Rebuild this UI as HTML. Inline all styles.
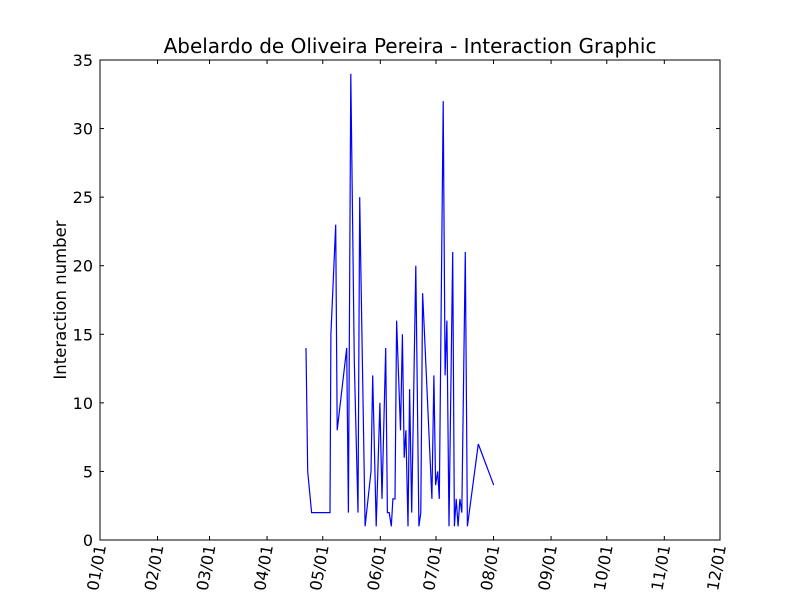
<!DOCTYPE html>
<html><head><meta charset="utf-8"><style>
body{margin:0;background:#fff;}
svg text{font-family:"DejaVu Sans","Liberation Sans",sans-serif;}
</style></head><body>
<svg id="chart" width="800" height="600"></svg>
<script>
const days=[111,111.9,114,123.9,124.4,127,127.8,132.9,133.8,135.1,137,139,139.9,140.5,142.8,146,146.9,148.8,150.8,151.9,153.9,154.8,155.8,156.9,157.8,158.9,159.8,161.9,162.9,163.9,164.8,165.9,166.8,167.9,170.1,171.8,172.8,173.8,174.5,178.8,179.9,180.8,181.9,182.8,184.9,185.9,186.9,188,190,190.9,191.9,192.9,193.9,194.9,196.8,197.9,203.8,212.1];
const counts=[14,5,2,2,15,23,8,14,2,34,13,2,25,20,1,5,12,1,10,3,14,2,2,1,3,3,16,8,15,6,8,1,11,2,20,1,2,18,16,3,12,4,5,3,32,12,16,1,21,1,3,1,3,2,21,1,7,4];
const yTicks=[0,5,10,15,20,25,30,35];
const xTickDays=[0,31,59,90,120,151,181,212,243,273,304,334];
const xTickLabels=["01/01","02/01","03/01","04/01","05/01","06/01","07/01","08/01","09/01","10/01","11/01","12/01"];
const L=100,R=720,T=60,B=540;
const xs=d=>L+(d-0)/(334)*(R-L);
const ys=v=>B-v/35*(B-T);
const svg=document.getElementById('chart');
const NS='http://www.w3.org/2000/svg';
function mk(tag,attrs,parent){const e=document.createElementNS(NS,tag);for(const k in attrs)e.setAttribute(k,attrs[k]);(parent||svg).appendChild(e);return e;}
const frame=mk('rect',{x:L,y:T,width:R-L,height:B-T,fill:'#fff',stroke:'#000','stroke-width':1});


yTicks.forEach(v=>{const y=ys(v);
 mk('line',{x1:L,x2:L+4,y1:y,y2:y,stroke:'#000'});mk('line',{x1:R,x2:R-4,y1:y,y2:y,stroke:'#000'});
 const t=mk('text',{x:L-7,y:y+6,'text-anchor':'end','font-size':'16'});t.textContent=v;
 
 });
xTickDays.forEach((d,i)=>{const x=xs(d);
 mk('line',{x1:x,x2:x,y1:B,y2:B-4,stroke:'#000'});mk('line',{x1:x,x2:x,y1:T,y2:T+4,stroke:'#000'});
 const t=mk('text',{x:x+6,y:B+6,'text-anchor':'end','font-size':'16',transform:`rotate(-80 ${x+6} ${B+6})`});t.textContent=xTickLabels[i];
 
 });
const pts=days.map((d,i)=>xs(d).toFixed(1)+','+ys(counts[i]).toFixed(1)).join(' ');
const line=mk('polyline',{points:pts,fill:'none',stroke:'#0000ff','stroke-width':1.2});


const title=mk('text',{x:410,y:53,'text-anchor':'middle','font-size':'20'});title.textContent='Abelardo de Oliveira Pereira - Interaction Graphic';


const yl=mk('text',{x:66,y:300,'text-anchor':'middle','font-size':'16.5',transform:'rotate(-90 66 300)'});yl.textContent='Interaction number';


</script>
</body></html>
